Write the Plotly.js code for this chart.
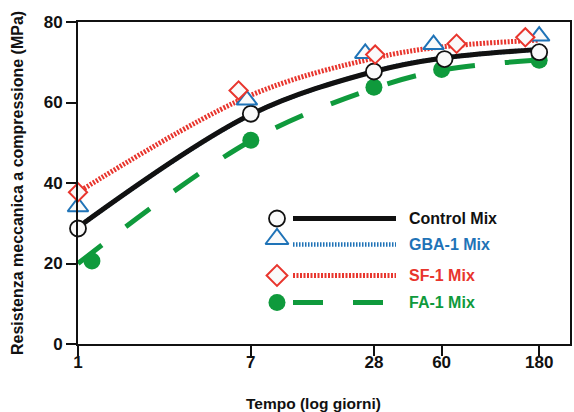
<!DOCTYPE html>
<html>
<head>
<meta charset="utf-8">
<script src="https://cdn.plot.ly/plotly-3.0.1.min.js"></script>
<style>html,body{margin:0;padding:0;background:#fff;}#chart{width:574px;height:412px;}</style>
</head>
<body>
<div id="chart"></div>
<script>
// ---- data ----
var days = [1, 7, 28, 60, 180];
var tickLabels = ['1', '7', '28', '60', '180'];

// fitted trend curves (values at the tick days)
var controlCurve = [29.0, 57.0, 67.7, 71.0, 73.2];
var gbaCurve     = [29.0, 57.0, 67.7, 71.0, 73.2]; // not visible in the reference (lies under another curve)
var sfCurve      = [37.7, 61.8, 71.0, 73.8, 75.5];
var faCurve      = [20.0, 50.5, 63.5, 68.0, 70.6];

// measured points
var controlX = [1, 7, 28, 62, 180];
var controlY = [28.7, 57.2, 67.7, 70.8, 72.5];
var gbaX = [1, 6.7, 25.4, 54.8, 180];
var gbaY = [34.1, 60.6, 72.2, 74.4, 76.5];
var sfX = [1, 6.1, 28.4, 71, 154];
var sfY = [37.7, 63.0, 71.9, 74.6, 76.2];
var faX = [1.17, 7, 28, 60, 180];
var faY = [20.6, 50.6, 63.8, 68.2, 70.5];

var seriesNames = ['Control Mix', 'GBA-1 Mix', 'SF-1 Mix', 'FA-1 Mix'];

// ---- styles ----
var BLACK = '#111111', BLUE = '#1f73b7', RED = '#e8352d', GREEN = '#0f9a3c';
var FONT = '"Liberation Sans Narrow", "Arial Narrow", "Liberation Sans", Arial, sans-serif';

var colors = [BLACK, BLUE, RED, GREEN];
var lineStyles = [
  {color: BLACK, width: 5, dash: 'solid'},
  {color: BLUE, width: 4.5, dash: '1.5px,1.5px'},
  {color: RED, width: 5, dash: '2px,1.5px'},
  {color: GREEN, width: 5, dash: '30px,30px'}
];
var markerStyles = [
  {symbol: 'circle', size: 16, color: '#fafafa', line: {color: BLACK, width: 1.8}},
  {symbol: 'triangle-up', size: 18, color: '#fafafa', line: {color: BLUE, width: 2}},
  {symbol: 'diamond', size: 14, color: '#fafafa', line: {color: RED, width: 2}},
  {symbol: 'circle', size: 17, color: GREEN, line: {color: GREEN, width: 0}}
];

var curves = [controlCurve, gbaCurve, sfCurve, faCurve];
var ptsX = [controlX, gbaX, sfX, faX];
var ptsY = [controlY, gbaY, sfY, faY];

var traces = [];
// draw order for curves: GBA (beneath), control, SF, FA
[1, 0, 2, 3].forEach(function (i) {
  traces.push({
    x: days, y: curves[i], type: 'scatter', mode: 'lines',
    line: Object.assign({shape: 'spline', smoothing: 1.0}, lineStyles[i]),
    showlegend: false, hoverinfo: 'skip', cliponaxis: false
  });
});
[3, 0, 1, 2].forEach(function (i) {
  traces.push({
    x: ptsX[i], y: ptsY[i], type: 'scatter', mode: 'markers',
    marker: markerStyles[i], showlegend: false, cliponaxis: false, name: seriesNames[i]
  });
});

// ---- custom legend on a pixel-like overlay axis ----
var legMarkerX = 277, legLineX0 = 293, legLineX1 = 396, legTextX = 409;
var legRowY = [218, 244, 275, 302];
var legMarkerY = [218, 238.5, 275, 302];
var legMarkerSizes = [16, 20, 16, 17];
var annotations = [];
for (var i = 0; i < 4; i++) {
  traces.push({
    x: [legLineX0, legLineX1], y: [legRowY[i], legRowY[i]], xaxis: 'x2', yaxis: 'y2',
    type: 'scatter', mode: 'lines', line: lineStyles[i], showlegend: false, hoverinfo: 'skip'
  });
  traces.push({
    x: [legMarkerX], y: [legMarkerY[i]], xaxis: 'x2', yaxis: 'y2',
    type: 'scatter', mode: 'markers',
    marker: Object.assign({}, markerStyles[i], {size: legMarkerSizes[i]}),
    showlegend: false, hoverinfo: 'skip', cliponaxis: false
  });
  annotations.push({
    xref: 'x2', yref: 'y2', x: legTextX - 2, y: legRowY[i], xanchor: 'left', yanchor: 'middle',
    text: seriesNames[i], showarrow: false,
    font: {family: FONT, size: 16, color: colors[i], weight: 'bold'}
  });
}

// axis titles
annotations.push({
  xref: 'paper', yref: 'paper', x: (313 - 78) / 492, y: -0.186, xanchor: 'center', yanchor: 'middle',
  text: 'Tempo (log giorni)', showarrow: false,
  font: {family: FONT, size: 15.5, color: BLACK, weight: 'bold'}
});
annotations.push({
  xref: 'paper', yref: 'paper', x: (17 - 78) / 492, y: 0.5, xanchor: 'center', yanchor: 'middle',
  textangle: -90, text: 'Resistenza meccanica a compressione (MPa)', showarrow: false,
  font: {family: FONT, size: 16, color: BLACK, weight: 'bold'}
});

var layout = {
  width: 574, height: 412,
  margin: {l: 78, r: 4, t: 21.5, b: 68, pad: 0},
  paper_bgcolor: '#ffffff', plot_bgcolor: '#ffffff',
  showlegend: false,
  font: {family: FONT, size: 17, color: BLACK},
  xaxis: {
    type: 'log', range: [0, 2.406], tickvals: days, ticktext: tickLabels,
    showline: true, linecolor: BLACK, linewidth: 2, mirror: true,
    ticks: 'outside', ticklen: 10, tickwidth: 2, tickcolor: BLACK,
    ticklabelstandoff: -8,
    showgrid: false, zeroline: false,
    tickfont: {family: FONT, size: 17, color: BLACK, weight: 'bold'}
  },
  yaxis: {
    range: [0, 80], dtick: 20, tick0: 0,
    showline: true, linecolor: BLACK, linewidth: 2, mirror: true,
    ticks: 'outside', ticklen: 10, tickwidth: 2, tickcolor: BLACK,
    showgrid: false, zeroline: false,
    tickfont: {family: FONT, size: 17, color: BLACK, weight: 'bold'}
  },
  xaxis2: {overlaying: 'x', range: [78, 570], visible: false, fixedrange: true},
  yaxis2: {overlaying: 'y', range: [343.5, 21.5], visible: false, fixedrange: true},
  annotations: annotations
};

Plotly.newPlot('chart', traces, layout, {displayModeBar: false, staticPlot: true});
</script>
</body>
</html>
